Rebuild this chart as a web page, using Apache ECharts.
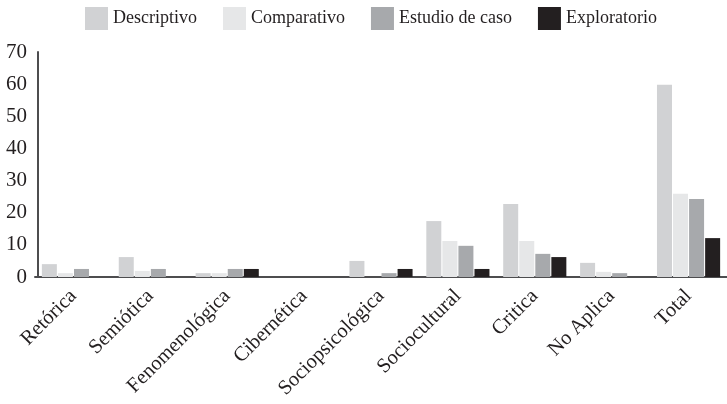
<!DOCTYPE html>
<html>
<head>
<meta charset="utf-8">
<script src="https://cdn.jsdelivr.net/npm/echarts@6/dist/echarts.min.js"></script>
<style>
  html, body { margin: 0; padding: 0; background: #fff; }
  #chart { width: 727px; height: 404px; }
</style>
</head>
<body>
<div id="chart"></div>
<script>
// categorías del eje x
const categorias = ['Retórica', 'Semiótica', 'Fenomenológica', 'Cibernética', 'Sociopsicológica',
  'Sociocultural', 'Critica', 'No Aplica', 'Total']
const yTicks = [0, 10, 20, 30, 40, 50, 60, 70]

// valores
const descriptivo = [4, 6.2, 1.2, 0, 5, 17.4, 22.7, 4.4, 59.8]
const comparativo = [1.2, 1.9, 1.2, 0, 0, 11.2, 11.2, 1.6, 25.9]
const estudioCaso = [2.5, 2.5, 2.5, 0, 1.2, 9.7, 7.2, 1.2, 24.3]
const exploratorio = [0, 0, 2.5, 0, 2.5, 2.5, 6.2, 0, 12.1]

const FONT = '"Liberation Serif", "DejaVu Serif", serif'

const chart = echarts.init(document.getElementById('chart'))

function serie (name, data, color) {
  return {
    name: name,
    type: 'bar',
    data: data,
    barWidth: 15,
    barGap: '7%',
    itemStyle: { color: color },
    emphasis: { disabled: true }
  }
}

chart.setOption({
  animation: false,
  textStyle: { fontFamily: FONT },
  legend: {
    top: 2,
    left: 80,
    itemWidth: 23,
    itemHeight: 23,
    itemGap: 26,
    icon: 'rect',
    textStyle: { fontFamily: FONT, fontSize: 18, color: '#231f20' }
  },
  grid: { left: 35, right: -5, top: 52, bottom: 127, containLabel: false },
  xAxis: {
    type: 'category',
    data: categorias,
    axisLine: { lineStyle: { color: '#4d4d4f', width: 2 } },
    axisTick: { show: false },
    axisLabel: {
      rotate: 45,
      interval: 0,
      margin: 16,
      fontFamily: FONT,
      fontSize: 20.5,
      color: '#231f20'
    }
  },
  yAxis: {
    type: 'value',
    min: yTicks[0],
    max: yTicks[yTicks.length - 1],
    interval: 10,
    offset: -3,
    splitLine: { show: false },
    axisLine: { show: true, lineStyle: { color: '#4d4d4f', width: 2 } },
    axisTick: { show: false },
    axisLabel: {
      margin: 11,
      fontFamily: FONT,
      fontSize: 21,
      color: '#231f20'
    }
  },
  series: [
    serie('Descriptivo', descriptivo, '#d1d2d4'),
    serie('Comparativo', comparativo, '#e6e7e8'),
    serie('Estudio de caso', estudioCaso, '#a7a9ac'),
    serie('Exploratorio', exploratorio, '#231f20')
  ]
})
</script>
</body>
</html>
